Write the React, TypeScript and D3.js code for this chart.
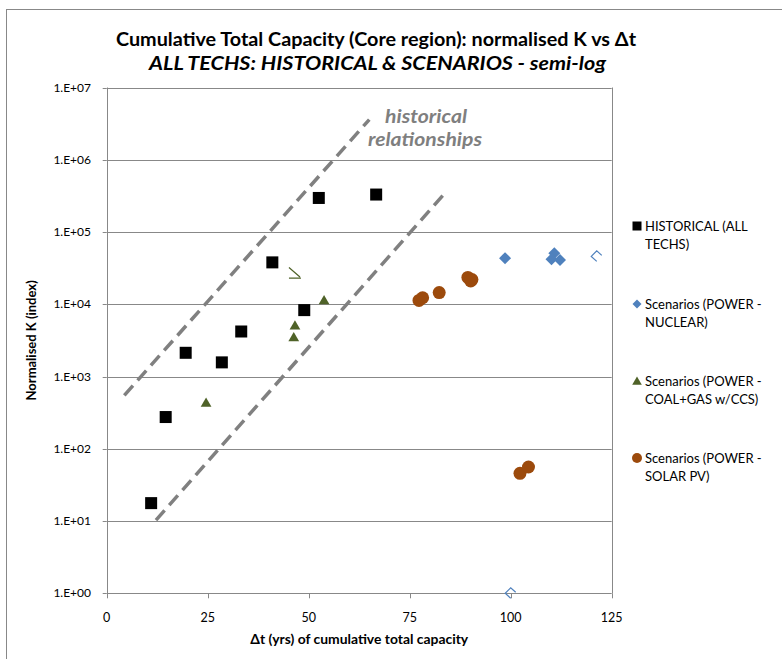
import React from "react";
import * as d3 from "d3";

const historical = [
  { x: 52.5, y: 2.96e5 }, { x: 66.7, y: 3.3e5 }, { x: 41.0, y: 3.8e4 },
  { x: 48.9, y: 8.3e3 }, { x: 33.3, y: 4.2e3 }, { x: 19.55, y: 2.13e3 },
  { x: 28.5, y: 1.57e3 }, { x: 14.6, y: 275 }, { x: 11.0, y: 17.7 },
];
const nuclear = [
  { x: 98.6, y: 4.35e4 }, { x: 110.8, y: 5.1e4 }, { x: 110.1, y: 4.2e4 }, { x: 112.2, y: 4.1e4 },
];
const nuclearOutline = [{ x: 121.3, y: 4.6e4 }, { x: 100.0, y: 1.0 }];
const coal = [
  { x: 53.8, y: 1.14e4 }, { x: 46.6, y: 5.1e3 }, { x: 46.3, y: 3.5e3 }, { x: 24.6, y: 434 },
];
const coalOutline = [{ x: 46.6, y: 2.75e4 }];
const solar = [
  { x: 77.3, y: 1.13e4 }, { x: 78.2, y: 1.23e4 }, { x: 82.3, y: 1.45e4 },
  { x: 89.4, y: 2.35e4 }, { x: 90.4, y: 2.2e4 }, { x: 90.1, y: 2.1e4 },
  { x: 102.3, y: 45.7 }, { x: 104.4, y: 56 },
];
const trendLines = [
  [{ x: 4.36, y: 550 }, { x: 65.0, y: 3.6e6 }],
  [{ x: 12.2, y: 10.3 }, { x: 84.0, y: 3.6e5 }],
];
const xTicks = [0, 25, 50, 75, 100, 125];
const yTicks = [1, 10, 100, 1e3, 1e4, 1e5, 1e6, 1e7];
const yTickLabels = ["1.E+00", "1.E+01", "1.E+02", "1.E+03", "1.E+04", "1.E+05", "1.E+06", "1.E+07"];
const legendItems = [
  { key: "hist", lines: ["HISTORICAL (ALL", "TECHS)"] },
  { key: "nuc", lines: ["Scenarios (POWER -", "NUCLEAR)"] },
  { key: "coal", lines: ["Scenarios (POWER -", "COAL+GAS w/CCS)"] },
  { key: "solar", lines: ["Scenarios (POWER -", "SOLAR PV)"] },
];

const C_NUC = "#4F81BD";
const C_COAL = "#4F6228";
const C_SOLAR = "#9C4A0C";
const FONT = "Lato, 'Open Sans', sans-serif";

export default function App() {
  const W = 782, H = 659;
  const left = 106.7, right = 611.7, top = 87.5, bottom = 593.3;
  const x = d3.scaleLinear().domain([0, 125]).range([left, right]);
  const y = d3.scaleLog().domain([1, 1e7]).range([bottom, top]);
  const line = d3.line<{ x: number; y: number }>().x(d => x(d.x)).y(d => y(d.y));
  const sym = (t: d3.SymbolType, s: number) => d3.symbol().type(t).size(s)() as string;
  const tri = sym(d3.symbolTriangle, 50);
  const dia = "M0,-6L6,0L0,6L-6,0Z";

  const legendY = [226, 304, 381, 458];

  return (
    <svg width={W} height={H} style={{ position: "absolute", left: 0, top: 0, background: "#fff" }} fontFamily={FONT}>
      <rect x={0} y={0} width={W} height={H} fill="#fff" />
      <rect x={6.5} y={9.5} width={W + 20} height={H + 20} fill="none" stroke="#888" strokeWidth={1} />
      {/* Title */}
      <text x={376} y={46} textAnchor="middle" fontSize={19.5} fontWeight="bold" fill="#000" textLength={520} lengthAdjust="spacingAndGlyphs">
        Cumulative Total Capacity (Core region): normalised K  vs Δt
      </text>
      <text x={377.5} y={70} textAnchor="middle" fontSize={19.5} fontWeight="bold" fontStyle="italic" fill="#000" textLength={457} lengthAdjust="spacingAndGlyphs">
        ALL TECHS: HISTORICAL &amp; SCENARIOS - semi-log
      </text>
      {/* gridlines */}
      {yTicks.map(t => (
        <line key={t} x1={left} x2={right} y1={Math.round(y(t)) + 0.5} y2={Math.round(y(t)) + 0.5} stroke="#888" strokeWidth={1} />
      ))}
      <line x1={Math.round(right) + 0.5} x2={Math.round(right) + 0.5} y1={top} y2={bottom} stroke="#888" />
      <line x1={Math.round(left) + 0.5} x2={Math.round(left) + 0.5} y1={top} y2={bottom} stroke="#888" />
      {/* y ticks */}
      {yTicks.map((t, i) => (
        <g key={"yt" + t}>
          <line x1={left - 4} x2={left} y1={Math.round(y(t)) + 0.5} y2={Math.round(y(t)) + 0.5} stroke="#888" />
          <text x={91} y={y(t) + 4} textAnchor="end" fontSize={12} fill="#000">{yTickLabels[i]}</text>
        </g>
      ))}
      {/* x ticks */}
      {xTicks.map(t => (
        <g key={"xt" + t}>
          <line x1={Math.round(x(t)) + 0.5} x2={Math.round(x(t)) + 0.5} y1={bottom} y2={bottom + 5} stroke="#888" />
          <text x={x(t)} y={622} textAnchor="middle" fontSize={12.5} fill="#000">{t}</text>
        </g>
      ))}
      <text x={(left + right) / 2} y={644} textAnchor="middle" fontSize={13.5} fontWeight="bold" fill="#000" textLength={218} lengthAdjust="spacingAndGlyphs">
        Δt (yrs) of cumulative  total capacity
      </text>
      <text transform={`translate(36,${(top + bottom) / 2}) rotate(-90)`} textAnchor="middle" fontSize={13} fontWeight="bold" fill="#000">
        Normalised K (index)
      </text>
      {/* trend lines */}
      {trendLines.map((l, i) => (
        <path key={"tl" + i} d={line(l) as string} stroke="#808080" strokeWidth={3.5} strokeDasharray="13,7" fill="none" />
      ))}
      <text x={426} y={123} textAnchor="middle" fontSize={19.5} fontWeight="bold" fontStyle="italic" fill="#7F7F7F" textLength={82} lengthAdjust="spacingAndGlyphs">historical</text>
      <text x={425} y={146} textAnchor="middle" fontSize={19.5} fontWeight="bold" fontStyle="italic" fill="#7F7F7F" textLength={114} lengthAdjust="spacingAndGlyphs">relationships</text>
      {/* markers */}
      {historical.map((d, i) => (
        <rect key={"h" + i} x={x(d.x) - 6} y={y(d.y) - 6} width={12} height={12} fill="#000" />
      ))}
      {coal.map((d, i) => (
        <path key={"c" + i} d={tri} transform={`translate(${x(d.x)},${y(d.y) + 1})`} fill={C_COAL} />
      ))}
      {coalOutline.map((d, i) => (
        <path key={"co" + i} d="M-6,-5L5,4.5M-6,5.5L6,5.5" transform={`translate(${x(d.x)},${y(d.y)})`} stroke={C_COAL} strokeWidth={1.2} fill="none" />
      ))}
      {nuclear.map((d, i) => (
        <path key={"n" + i} d={dia} transform={`translate(${x(d.x)},${y(d.y)})`} fill={C_NUC} />
      ))}
      {nuclearOutline.map((d, i) => (
        <path key={"no" + i} d="M5,-1L0,-5.5L-5.5,0L0,5" transform={`translate(${x(d.x)},${y(d.y)})`} stroke={C_NUC} strokeWidth={1.2} fill="none" />
      ))}
      {solar.map((d, i) => (
        <circle key={"s" + i} cx={x(d.x)} cy={y(d.y)} r={6.5} fill={C_SOLAR} />
      ))}
      {/* legend */}
      {legendItems.map((it, i) => {
        const ly = legendY[i];
        const mx = 637;
        let marker;
        if (it.key === "hist") marker = <rect x={mx - 4.5} y={ly - 4.5} width={9} height={9} fill="#000" />;
        else if (it.key === "nuc") marker = <path d="M0,-4.5L4.5,0L0,4.5L-4.5,0Z" transform={`translate(${mx},${ly})`} fill={C_NUC} />;
        else if (it.key === "coal") marker = <path d={sym(d3.symbolTriangle, 40)} transform={`translate(${mx},${ly + 1})`} fill={C_COAL} />;
        else marker = <circle cx={mx} cy={ly} r={5} fill={C_SOLAR} />;
        return (
          <g key={it.key}>
            {marker}
            {it.lines.map((ln, j) => (
              <text key={j} x={645} y={ly + 5 + j * 18} fontSize={13} fill="#000">{ln}</text>
            ))}
          </g>
        );
      })}
    </svg>
  );
}
